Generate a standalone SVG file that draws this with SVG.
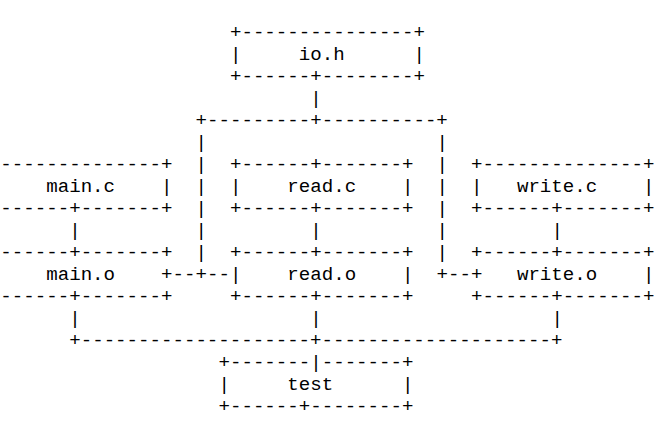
<svg xmlns="http://www.w3.org/2000/svg" width="661" height="425" viewBox="0 0 661 425" xml:space="preserve">
<style>
text { font-family: "Liberation Mono", "DejaVu Sans Mono", monospace; font-size: 19.13px; fill: #000; white-space: pre; }
</style>
<rect width="661" height="425" fill="#fff"/>
<g id="io_h">
<text x="229.98" y="38.2">+---------------+</text>
<text x="229.98" y="60.2">|     io.h      |</text>
<text x="229.98" y="82.2">+------+--------+</text>
</g>
<g id="main_c">
<text x="-11.1" y="170.2">+--------------+</text>
<text x="-11.1" y="192.2">|    main.c    |</text>
<text x="-11.1" y="214.2">+------+-------+</text>
</g>
<g id="read_c">
<text x="229.98" y="170.2">+------+-------+</text>
<text x="229.98" y="192.2">|    read.c    |</text>
<text x="229.98" y="214.2">+------+-------+</text>
</g>
<g id="write_c">
<text x="471.06" y="170.2">+--------------+</text>
<text x="471.06" y="192.2">|   write.c    |</text>
<text x="471.06" y="214.2">+------+-------+</text>
</g>
<g id="main_o">
<text x="-11.1" y="258.2">+------+-------+</text>
<text x="-11.1" y="280.2">|    main.o    +</text>
<text x="-11.1" y="302.2">+------+-------+</text>
</g>
<g id="read_o">
<text x="229.98" y="258.2">+------+-------+</text>
<text x="229.98" y="280.2">|    read.o    |</text>
<text x="229.98" y="302.2">+------+-------+</text>
</g>
<g id="write_o">
<text x="471.06" y="258.2">+------+-------+</text>
<text x="471.06" y="280.2">+   write.o    |</text>
<text x="471.06" y="302.2">+------+-------+</text>
</g>
<g id="test">
<text x="218.5" y="368.2">+-------|-------+</text>
<text x="218.5" y="390.2">|     test      |</text>
<text x="218.5" y="412.2">+------+--------+</text>
</g>
<g id="connectors">
<text x="310.34" y="104.2">|</text>
<text x="195.54" y="126.2">+---------+----------+</text>
<text x="195.54" y="148.2">|</text>
<text x="436.62" y="148.2">|</text>
<text x="195.54" y="170.2">|</text>
<text x="436.62" y="170.2">|</text>
<text x="195.54" y="192.2">|</text>
<text x="436.62" y="192.2">|</text>
<text x="195.54" y="214.2">|</text>
<text x="436.62" y="214.2">|</text>
<text x="69.26" y="236.2">|</text>
<text x="195.54" y="236.2">|</text>
<text x="310.34" y="236.2">|</text>
<text x="436.62" y="236.2">|</text>
<text x="551.42" y="236.2">|</text>
<text x="195.54" y="258.2">|</text>
<text x="436.62" y="258.2">|</text>
<text x="172.58" y="280.2">--+--</text>
<text x="436.62" y="280.2">+--</text>
<text x="69.26" y="324.2">|</text>
<text x="310.34" y="324.2">|</text>
<text x="551.42" y="324.2">|</text>
<text x="69.26" y="346.2">+--------------------+--------------------+</text>
</g>
</svg>
